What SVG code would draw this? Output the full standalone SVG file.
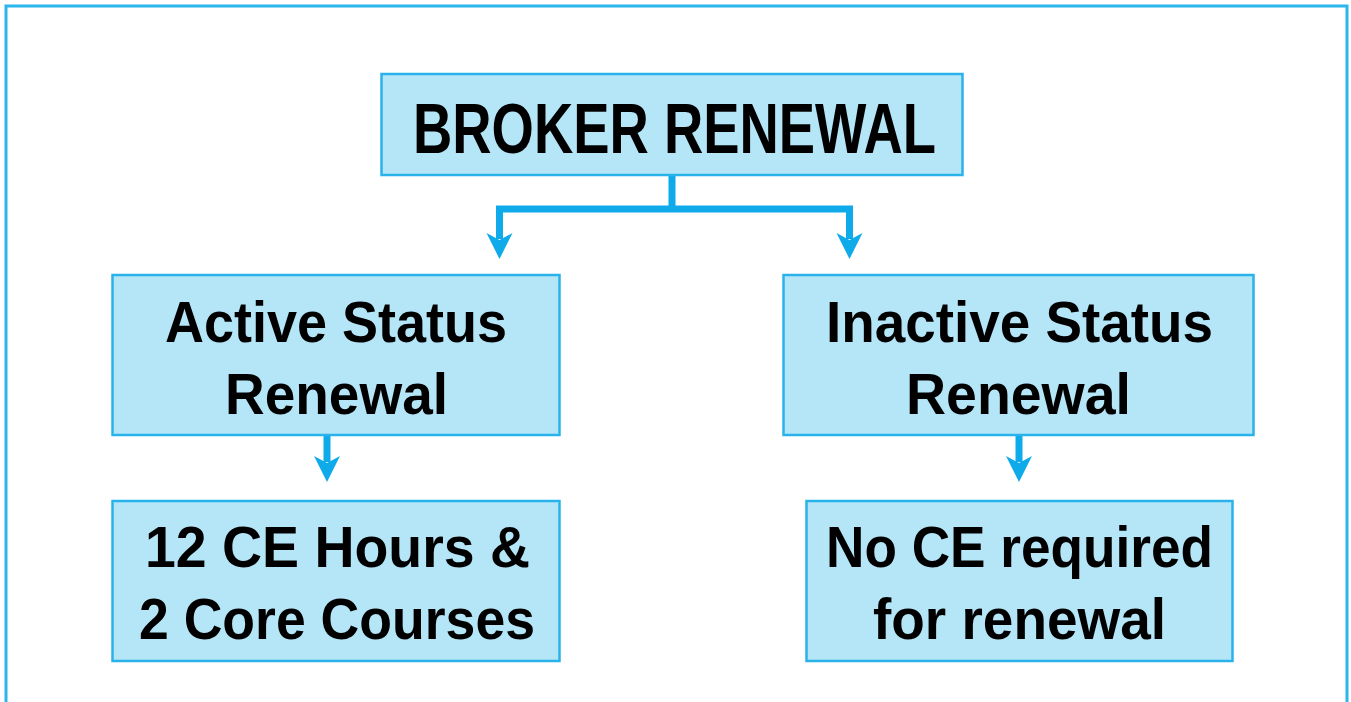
<svg xmlns="http://www.w3.org/2000/svg" width="1351" height="702" viewBox="0 0 1351 702">
  <style>
    .box { fill: #b4e6f8; stroke: #2ab3ea; stroke-width: 2.5; }
    .lbl { font-family: "Liberation Sans", Arial, sans-serif; font-weight: bold; fill: #000; text-anchor: start; }
    .title { font-size: 70px; }
    .body { font-size: 57px; }
    .wire { fill: none; stroke: #0eaaea; stroke-width: 7; }
  </style>
  <defs>
    <!-- arrowhead drawn along +x; the line stops at the notch, the tip runs 20px past it -->
    <marker id="head" markerUnits="userSpaceOnUse" markerWidth="28" markerHeight="28" viewBox="0 0 28 28" refX="6" refY="14" orient="auto">
      <path d="M0,1 L7,14 L0,27 L26,14 Z" fill="#0eaaea"/>
    </marker>
  </defs>

  <rect x="0" y="0" width="1351" height="702" fill="#ffffff"/>
  <!-- outer frame -->
  <rect x="6" y="6" width="1341" height="720" fill="none" stroke="#2bb6ee" stroke-width="3"/>

  <g id="connectors">
    <path class="wire" d="M672,176 V209 M496,209 H853"/>
    <path class="wire" d="M499.5,206 V239" marker-end="url(#head)"/>
    <path class="wire" d="M849.5,206 V239" marker-end="url(#head)"/>
    <path class="wire" d="M327,435 V462" marker-end="url(#head)"/>
    <path class="wire" d="M1019,435 V462" marker-end="url(#head)"/>
  </g>

  <g id="broker-renewal">
    <rect class="box" x="381.5" y="74" width="581" height="101"/>
    <text class="lbl title" x="413" y="153" textLength="523" lengthAdjust="spacingAndGlyphs">BROKER RENEWAL</text>
  </g>

  <g id="active-status">
    <rect class="box" x="112.5" y="275" width="447" height="160"/>
    <text class="lbl body" x="165" y="342" textLength="342" lengthAdjust="spacingAndGlyphs">Active Status</text>
    <text class="lbl body" x="225" y="414" textLength="223" lengthAdjust="spacingAndGlyphs">Renewal</text>
  </g>

  <g id="inactive-status">
    <rect class="box" x="783.5" y="275" width="470" height="160"/>
    <text class="lbl body" x="826" y="342" textLength="387" lengthAdjust="spacingAndGlyphs">Inactive Status</text>
    <text class="lbl body" x="906" y="414" textLength="225" lengthAdjust="spacingAndGlyphs">Renewal</text>
  </g>

  <g id="active-requirements">
    <rect class="box" x="112.5" y="501" width="447" height="160"/>
    <text class="lbl body" x="145" y="567" textLength="385" lengthAdjust="spacingAndGlyphs">12 CE Hours &amp;</text>
    <text class="lbl body" x="139" y="639" textLength="396" lengthAdjust="spacingAndGlyphs">2 Core Courses</text>
  </g>

  <g id="inactive-requirements">
    <rect class="box" x="806.5" y="501" width="426" height="160"/>
    <text class="lbl body" x="826" y="567" textLength="387" lengthAdjust="spacingAndGlyphs">No CE required</text>
    <text class="lbl body" x="873" y="639" textLength="293" lengthAdjust="spacingAndGlyphs">for renewal</text>
  </g>
</svg>
